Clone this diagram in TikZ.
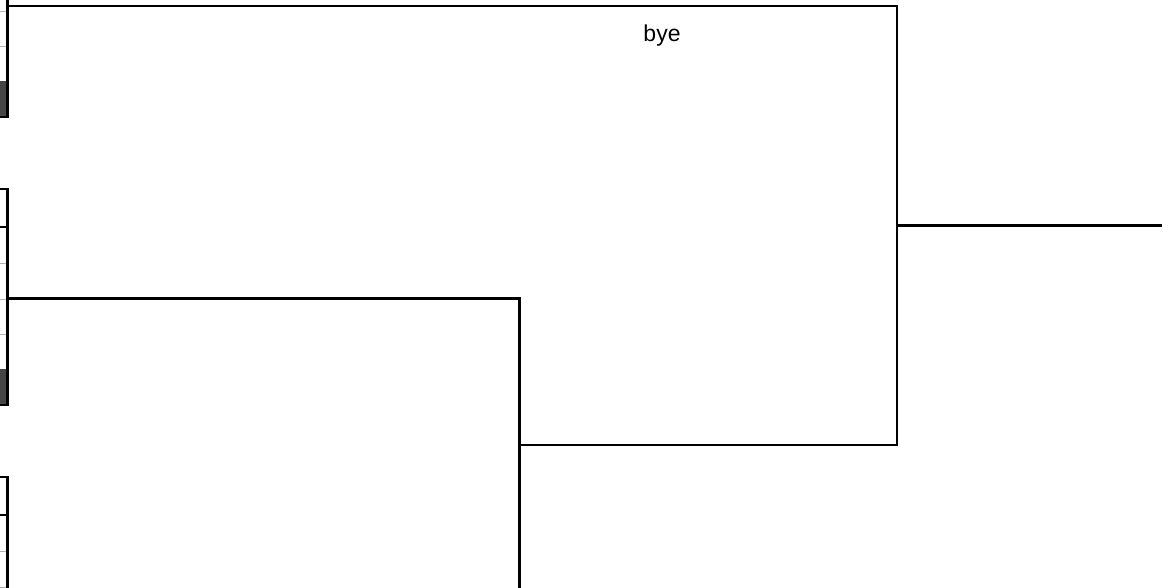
\documentclass[tikz,border=0pt]{standalone}
\usepackage{fontspec}
\setmainfont{Liberation Sans}
\usepackage{tikz}
\usetikzlibrary{calc}
\tikzstyle{dgraph}=[line width=2.6pt, black, line join=miter]
\tikzstyle{rowline}=[line width=1pt, black!30]
\tikzstyle{boxline}=[line width=2.6pt, black]
\tikzstyle{lastrow}=[fill=black!73, draw=none]
\tikzstyle{tag}=[font=\fontsize{23}{28}\selectfont, inner sep=0pt]

\begin{document}
\begin{tikzpicture}[x=1pt,y=-1pt]
\clip (0,0) rectangle (1169,587);
\useasboundingbox (0,0) rectangle (1169,587);
% table groups cut at the left edge
\foreach \t in {-99,189,477} {
  \fill[lastrow] (-20,\t+180) rectangle (7.5,\t+216);
  \foreach \r in {74,110,145}
    \draw[rowline] (-20,\t+\r) -- (7,\t+\r);
  \draw[boxline] (-20,\t) -- (7.5,\t) -- (7.5,\t+216) -- (-20,\t+216);
  \draw[boxline] (-20,\t+38) -- (7.5,\t+38);
}
% leaves and joins
\coordinate (l1) at (7.5,6);
\coordinate (l2) at (7.5,298.5);
\coordinate (l3) at (7.5,592);
\coordinate (j23) at (519.5,445);
\coordinate (jroot) at (897,225.5);
\coordinate (out) at (1162,225.5);
\draw[dgraph] (l2) -| (j23) |- (l3);
\draw[dgraph] (l1) -| (jroot) |- (j23);
\draw[dgraph] (jroot) -- (out);
\node[tag] (bye) at (662,36) {bye};
\end{tikzpicture}
\end{document}
